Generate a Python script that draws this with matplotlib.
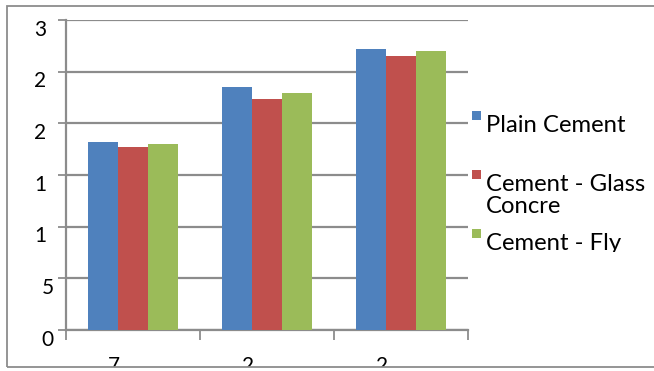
import matplotlib
matplotlib.use("Agg")
import matplotlib.pyplot as plt
from matplotlib.patches import Rectangle
from matplotlib.transforms import ScaledTranslation, Bbox, TransformedBbox
import numpy as np

plt.rcParams['font.family'] = ['Lato', 'DejaVu Sans']

# Data
categories = ["7", "2", "2"]
series_names = ["Plain Cement", "Cement - Glass\nConcre", "Cement - Fly"]
plain_cement = [18.2, 23.5, 27.2]
glass_concrete = [17.7, 22.4, 26.5]
fly_ash = [18.0, 22.9, 27.0]
y_ticks = [0, 5, 10, 15, 20, 25, 30]
y_tick_labels = ["0", "5", "1", "1", "2", "2", "3"]

series = [plain_cement, glass_concrete, fly_ash]
colors = ["#4F81BD", "#C0504D", "#9BBB59"]

W, H = 654, 371
DPI = 100
fig = plt.figure(figsize=(W / DPI, H / DPI), dpi=DPI)
fig.patch.set_facecolor("white")

def fx(px):
    return px / W

def fy(py):
    return 1 - py / H

# chart border (runs past the right edge)
border = Rectangle((fx(7), fy(366.5)), fx(700) - fx(7), fy(5.5) - fy(366.5),
                   transform=fig.transFigure, fill=False, edgecolor="#8c8c8c",
                   linewidth=1.3, zorder=0)
fig.patches.append(border)

ax = fig.add_axes([fx(66), fy(330), fx(468) - fx(66), fy(20) - fy(330)])
ax.set_facecolor("none")

x = np.arange(len(categories))
bw = 0.224
for i, (vals, c) in enumerate(zip(series, colors)):
    ax.bar(x + (i - 1) * bw, vals, width=bw, color=c, zorder=3, linewidth=0)

ax.set_xlim(-0.5, len(categories) - 0.5)
ax.set_ylim(0, 30)

grid_c = "#8c8c8c"
ax.set_yticks(y_ticks)
ax.set_yticklabels(y_tick_labels, fontsize=15, color="black", va="baseline")
ax.yaxis.grid(True, color=grid_c, linewidth=1.6, zorder=1)
ax.tick_params(axis="y", length=6, width=1.3, color=grid_c, pad=3)
for v, lab in zip(y_ticks, ax.get_yticklabels()):
    # labels cut down from two digits keep the leading digit's place
    dx = -0.07 if str(v) != lab.get_text() else 0.0
    lab.set_transform(lab.get_transform() +
                      ScaledTranslation(dx, -0.157, fig.dpi_scale_trans))

ax.set_xticks(np.arange(len(categories) + 1) - 0.5)
ax.set_xticklabels([])
ax.tick_params(axis="x", length=7, width=1.3, color=grid_c)

for s in ["top", "right"]:
    ax.spines[s].set_visible(False)
for s in ["left", "bottom"]:
    ax.spines[s].set_color(grid_c)
    ax.spines[s].set_linewidth(1.6)

# category labels, clipped by the chart border
clip_box = TransformedBbox(Bbox([[fx(7), fy(366.5)], [fx(700), fy(5.5)]]), fig.transFigure)
for xi, lab in zip(x, categories):
    t = ax.annotate(lab, xy=(xi, 0), xycoords=("data", "axes fraction"),
                    xytext=(-13.7, -19.0), textcoords="offset points",
                    ha="center", va="top", fontsize=15, annotation_clip=False)
    t.set_clip_on(True)
    t.set_clip_box(clip_box)

# legend: square key and label lines, clipped at the bottom of the legend box
legend_clip = TransformedBbox(Bbox([[fx(460), fy(251.7)], [fx(700), fy(90)]]), fig.transFigure)
for i, (name, c) in enumerate(zip(series_names, colors)):
    top = 111 + i * 59
    fig.patches.append(Rectangle((fx(472), fy(top + 8.5)), fx(8.5), 8.5 / H,
                                 transform=fig.transFigure, facecolor=c,
                                 edgecolor="none", zorder=5))
    for j, line in enumerate(name.split("\n")):
        t = fig.text(fx(486), fy(top + 20.7 + 22.7 * j), line, ha="left",
                     va="baseline", fontsize=17.2, zorder=5)
        t.set_clip_on(True)
        t.set_clip_box(legend_clip)

fig.savefig("out.png", dpi=DPI)
